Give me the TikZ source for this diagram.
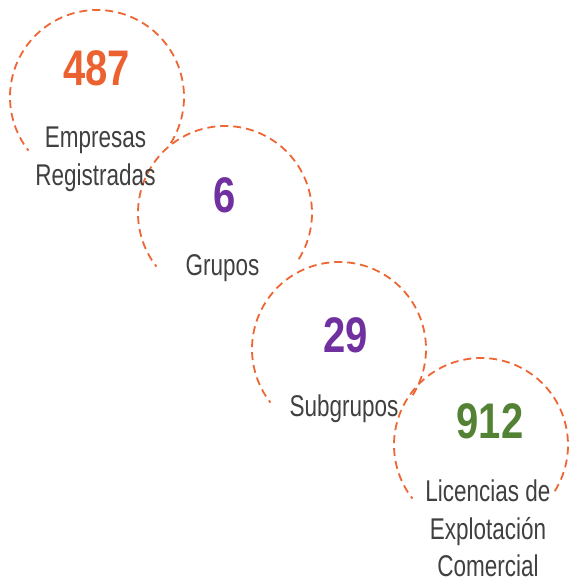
\documentclass[tikz,border=0pt]{standalone}
\usepackage{fontspec}
\setmainfont{Liberation Sans}
\usepackage{graphicx}
\usetikzlibrary{calc}
\definecolor{ring}{HTML}{EE6634}
\definecolor{numorange}{HTML}{EC6130}
\definecolor{numpurple}{HTML}{7030A0}
\definecolor{numgreen}{HTML}{548235}
\definecolor{txtgray}{HTML}{404040}
\newcommand\numtxt[1]{\scalebox{0.8}[1]{#1}}
\newcommand\lbltxt[1]{\scalebox{0.75}[1]{\begin{tabular}[t]{@{}c@{}}#1\end{tabular}}}
\begin{document}
\begin{tikzpicture}[x=1pt,y=1pt,
  ringline/.style={draw=ring,line width=1.8pt,dash pattern=on 8pt off 5pt},
  numlabel/.style={anchor=base,inner sep=0pt,font=\fontsize{50}{60}\selectfont\bfseries},
  textlabel/.style={anchor=base,inner sep=0pt,text=txtgray,font=\fontsize{30}{37.5}\selectfont}]
\useasboundingbox (0,0) rectangle (571,584);
\coordinate (c1) at (97,487);
\coordinate (c2) at (225,371);
\coordinate (c3) at (339,235);
\coordinate (c4) at (481,139);
\foreach \c in {c1,c2,c3,c4}{
  \draw[ringline] ($(\c)+(-32:87)$) arc[start angle=-32,end angle=218,radius=87];
}
\node[numlabel,text=numorange] (n1) at (96.5,498) {\numtxt{487}};
\node[textlabel] (t1) at (95.5,436) {\lbltxt{Empresas\\Registradas}};
\node[numlabel,text=numpurple] (n2) at (225,371) {\numtxt{6}};
\node[textlabel] (t2) at (222.5,308) {\lbltxt{Grupos}};
\node[numlabel,text=numpurple] (n3) at (346,231) {\numtxt{29}};
\node[textlabel] (t3) at (344,167) {\lbltxt{Subgrupos}};
\node[numlabel,text=numgreen] (n4) at (490,145) {\numtxt{912}};
\node[textlabel] (t4) at (488,82) {\lbltxt{Licencias de\\Explotación\\Comercial}};
\end{tikzpicture}
\end{document}
